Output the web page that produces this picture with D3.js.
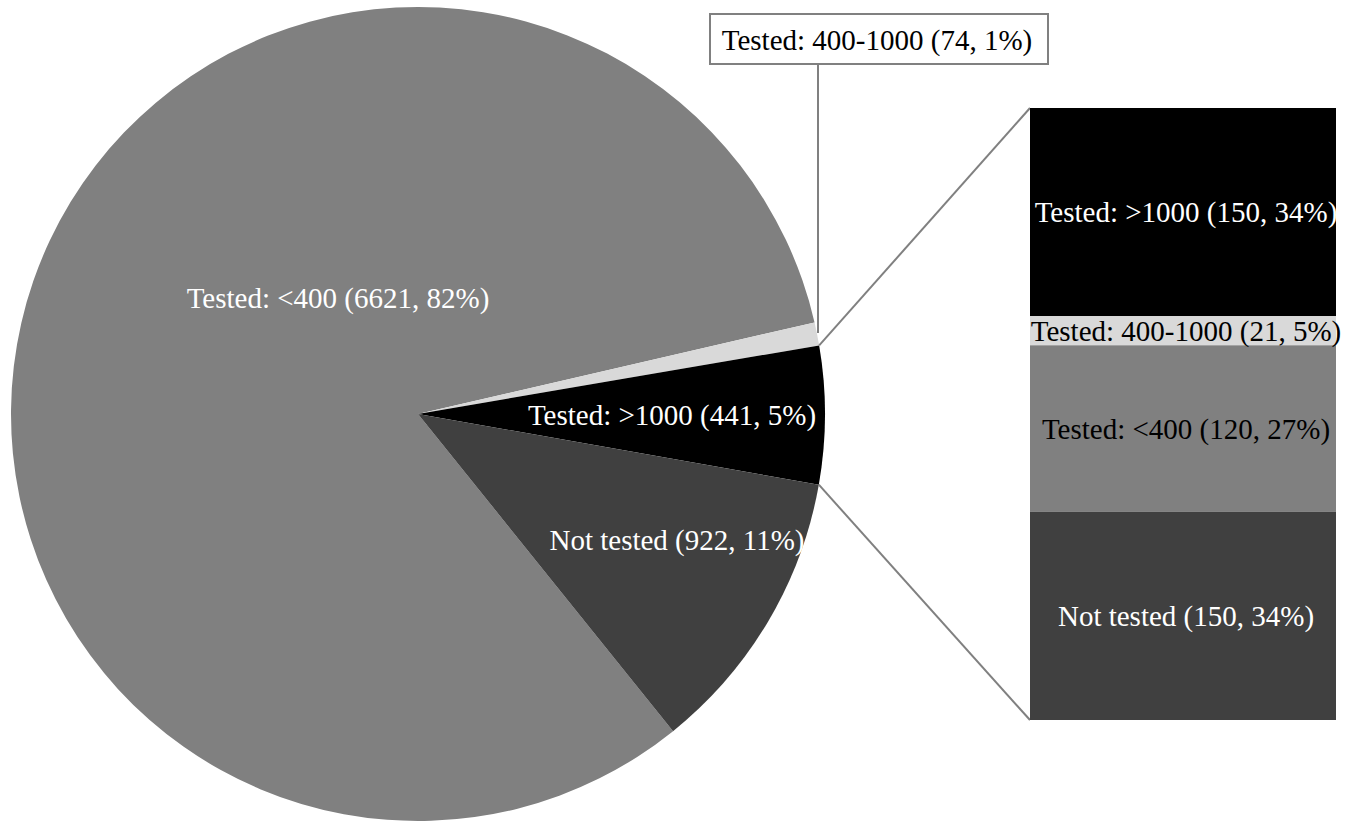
<!DOCTYPE html>
<html>
<head>
<meta charset="utf-8">
<script src="https://cdn.jsdelivr.net/npm/d3@7"></script>
<style>
body { margin: 0; background: #fff; }
text { font-family: "Liberation Serif", "Times New Roman", serif; }
</style>
</head>
<body>
<div class="home"></div>
<script>
// pie slices, clockwise
var pieNames = ["Tested: <400", "Tested: 400-1000", "Tested: >1000", "Not tested"];
var pieValues = [6621, 74, 441, 922];
var pieLabels = ["Tested: <400 (6621, 82%)", "Tested: 400-1000 (74, 1%)", "Tested: >1000 (441, 5%)", "Not tested (922, 11%)"];
var pieColors = ["#808080", "#d9d9d9", "#000000", "#404040"];

// bar that splits the ">1000" slice, top to bottom
var barNames = ["Tested: >1000", "Tested: 400-1000", "Tested: <400", "Not tested"];
var barValues = [150, 21, 120, 150];
var barLabels = ["Tested: >1000 (150, 34%)", "Tested: 400-1000 (21, 5%)", "Tested: <400 (120, 27%)", "Not tested (150, 34%)"];
var barColors = ["#000000", "#d9d9d9", "#808080", "#404040"];
var barText = ["#fff", "#000", "#000", "#fff"];

var W = 1354, H = 823;
var cx = 418, cy = 414, r = 407;
var fs = 29;

var svg = d3.select(".home").append("svg")
    .attr("width", W).attr("height", H);

var total = d3.sum(pieValues);
// the split slice (index 2) starts at 80.3 deg
var otherStart = 80.3 * Math.PI / 180;
var start = otherStart - (pieValues[0] + pieValues[1]) / total * 2 * Math.PI;

var pie = d3.pie().sort(null).startAngle(start).endAngle(start + 2 * Math.PI);
var arcs = pie(pieValues);
var arc = d3.arc().innerRadius(0).outerRadius(r);

var g = svg.append("g").attr("transform", "translate(" + cx + "," + cy + ")");
g.selectAll("path").data(arcs).enter().append("path")
    .attr("d", arc)
    .attr("fill", function(d, i) { return pieColors[i]; });

function pt(a, rad) { return [cx + rad * Math.sin(a), cy - rad * Math.cos(a)]; }

// bar
var bx0 = 1030, bx1 = 1336;
var y = d3.scaleLinear().domain([0, d3.sum(barValues)]).range([108, 720]);
var cum = 0;
var barData = barValues.map(function(v, i) {
    var o = { y0: cum, y1: cum + v, i: i };
    cum += v;
    return o;
});

// connector lines
var s = arcs[2];
var pA = pt(s.startAngle, r), pB = pt(s.endAngle, r);
svg.append("line").attr("x1", pA[0]).attr("y1", pA[1]).attr("x2", bx0).attr("y2", y(0))
    .attr("stroke", "#808080").attr("stroke-width", 2);
svg.append("line").attr("x1", pB[0]).attr("y1", pB[1]).attr("x2", bx0).attr("y2", y(cum))
    .attr("stroke", "#808080").attr("stroke-width", 2);

svg.selectAll("rect.seg").data(barData).enter().append("rect")
    .attr("class", "seg")
    .attr("x", bx0).attr("width", bx1 - bx0)
    .attr("y", function(d) { return y(d.y0); })
    .attr("height", function(d) { return y(d.y1) - y(d.y0); })
    .attr("fill", function(d) { return barColors[d.i]; });

svg.selectAll("text.seg").data(barData).enter().append("text")
    .attr("class", "seg")
    .attr("x", (bx0 + bx1) / 2 + 3)
    .attr("y", function(d) { return (y(d.y0) + y(d.y1)) / 2; })
    .attr("dy", "0.35em")
    .attr("text-anchor", "middle")
    .attr("font-size", fs)
    .attr("fill", function(d) { return barText[d.i]; })
    .text(function(d) { return barLabels[d.i]; });

// pie labels
var labelPos = [[338, 298], null, [672, 415], [677, 540]];
var pieText = ["#fff", "#000", "#fff", "#fff"];
arcs.forEach(function(d, i) {
    if (!labelPos[i]) return;
    svg.append("text")
        .attr("x", labelPos[i][0]).attr("y", labelPos[i][1])
        .attr("dy", "0.35em")
        .attr("text-anchor", "middle")
        .attr("font-size", fs)
        .attr("fill", pieText[i])
        .text(pieLabels[i]);
});

// callout for the thin slice
var lx = 818;
svg.append("line").attr("x1", lx).attr("y1", 64).attr("x2", lx).attr("y2", 333)
    .attr("stroke", "#808080").attr("stroke-width", 2);
svg.append("rect").attr("x", 710).attr("y", 14).attr("width", 338).attr("height", 50)
    .attr("fill", "#fff").attr("stroke", "#808080").attr("stroke-width", 2);
svg.append("text").attr("x", 877).attr("y", 40).attr("dy", "0.35em")
    .attr("text-anchor", "middle").attr("font-size", fs).attr("fill", "#000")
    .text(pieLabels[1]);
</script>
</body>
</html>
